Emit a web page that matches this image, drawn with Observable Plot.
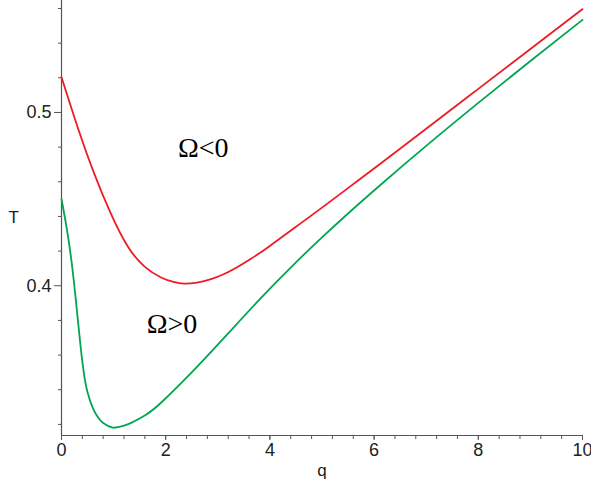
<!DOCTYPE html>
<html>
<head>
<meta charset="utf-8">
<script src="https://cdn.jsdelivr.net/npm/d3@7"></script>
<script src="https://cdn.jsdelivr.net/npm/@observablehq/plot@0.6"></script>
<style>
  html, body { margin: 0; padding: 0; background: #fff; }
  #chart svg { display: block; }
</style>
</head>
<body>
<div id="chart"></div>
<script>
// Ω<0 curve (red)
const redQ = [0, 0.31, 0.63, 0.95, 1.27, 1.59, 1.91, 2.15, 2.35, 2.6, 2.87, 3.1, 3.31, 3.63, 4.0, 4.59, 5.0, 5.55, 6.126, 7.0, 8.0, 9.0, 10.0];
const redT = [0.5204, 0.4915, 0.4646, 0.4415, 0.4228, 0.4112, 0.4048, 0.4022, 0.4012, 0.4018, 0.4038, 0.4065, 0.4097, 0.4155, 0.4230, 0.4360, 0.4451, 0.4575, 0.4706, 0.4906, 0.5136, 0.5366, 0.5596];
// Ω>0 curve (green)
const greenQ = [0, 0.09, 0.18, 0.25, 0.31, 0.37, 0.43, 0.5, 0.6, 0.69, 0.8, 0.98, 1.1, 1.27, 1.59, 1.91, 2.55, 3.19, 3.83, 4.5, 5.0, 5.5, 6.126, 7.0, 8.0, 9.0, 10.0];
const greenT = [0.4500, 0.4350, 0.4170, 0.3990, 0.3815, 0.3640, 0.3495, 0.3385, 0.3295, 0.3245, 0.3208, 0.3182, 0.3186, 0.3200, 0.3250, 0.3325, 0.3516, 0.3722, 0.3930, 0.4135, 0.4279, 0.4417, 0.4583, 0.4807, 0.5055, 0.5297, 0.5534];

const xMajor = [0, 2, 4, 6, 8, 10];
const xMinor = d3.range(0, 10.001, 0.4);
const yMajor = [0.4, 0.5];
const yMinor = [0.32, 0.34, 0.36, 0.38, 0.42, 0.44, 0.46, 0.48, 0.52, 0.54, 0.56];

const labelText = ["Ω<0", "Ω>0"];
const labelQ = [2.72, 2.12];
const labelT = [0.4795, 0.3782];

const red = redQ.map((q, i) => ({q, T: redT[i]}));
const green = greenQ.map((q, i) => ({q, T: greenT[i]}));
const labels = labelText.map((t, i) => ({t, q: labelQ[i], T: labelT[i]}));

const axisColor = "#555";
const chart = Plot.plot({
  width: 591,
  height: 484,
  marginLeft: 61,
  marginRight: 9,
  marginTop: 0,
  marginBottom: 49,
  style: {fontFamily: "'Liberation Sans', Arial, sans-serif", fontSize: "17px", color: "#222", background: "#fff"},
  x: {domain: [0, 10]},
  y: {domain: [0.3136, 0.5646]},
  marks: [
    Plot.axisX({ticks: xMinor, tickSize: 4, text: null, stroke: axisColor, label: null}),
    Plot.axisX({ticks: xMajor, tickSize: 5, tickPadding: 3, tickFormat: d => String(d), stroke: axisColor, label: null, fontSize: 18}),
    Plot.axisY({ticks: yMinor, tickSize: 3, text: null, stroke: axisColor, label: null}),
    Plot.axisY({ticks: yMajor, tickSize: 7, tickPadding: 3, tickFormat: d => d.toFixed(1), stroke: axisColor, label: null, fontSize: 18}),
    Plot.ruleX([0], {stroke: axisColor, strokeWidth: 1.2}),
    Plot.ruleY([0.3136], {stroke: axisColor, strokeWidth: 1.2}),
    Plot.text(["T"], {frameAnchor: "left", dx: -53, fontSize: 17, fill: "#222"}),
    Plot.text(["q"], {frameAnchor: "bottom", dy: 40, fontSize: 17, fill: "#222"}),
    Plot.line(red, {x: "q", y: "T", stroke: "#ec1c24", strokeWidth: 1.8, curve: "natural"}),
    Plot.line(green, {x: "q", y: "T", stroke: "#00a651", strokeWidth: 1.8, curve: "natural"}),
    Plot.text(labels, {x: "q", y: "T", text: "t", fontFamily: "'Liberation Serif', 'Times New Roman', serif", fontSize: 28, fill: "#000"})
  ]
});
document.getElementById("chart").appendChild(chart);
</script>
</body>
</html>
